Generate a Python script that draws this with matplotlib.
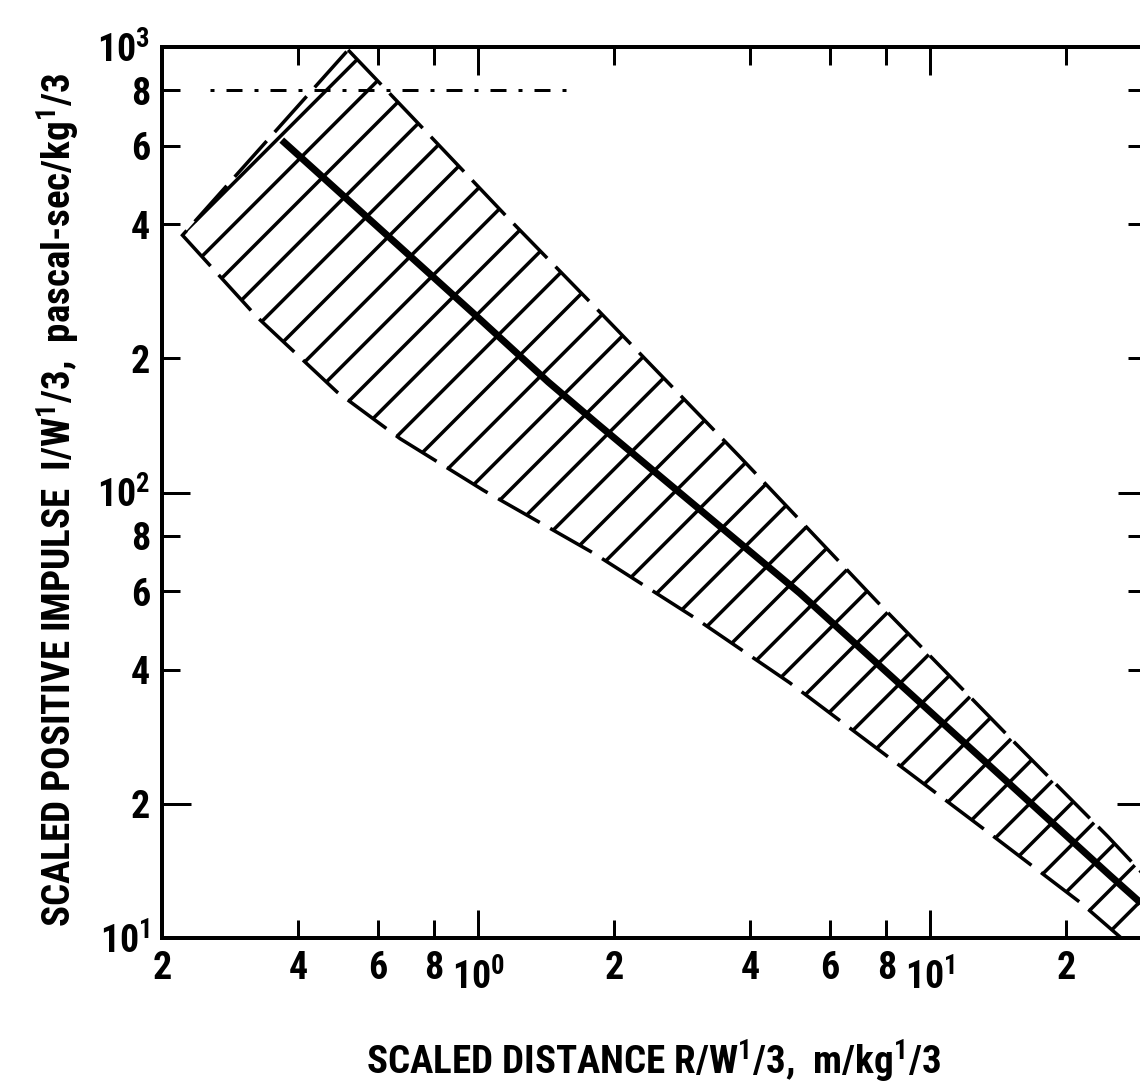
import numpy as np
import matplotlib
matplotlib.use("Agg")
import matplotlib.pyplot as plt
from matplotlib import font_manager
from matplotlib.ticker import FixedLocator, FixedFormatter

# ---------------- data ----------------
center_x = [0.368, 1.0, 1.43, 1.83, 5.15, 12.4, 25.0, 30.0]
center_y = [618, 247, 177, 143, 59.4, 26.4, 13.8, 11.7]

upper_x = [0.516, 0.726, 1.16, 1.86, 3.80, 7.64, 15.4, 24.7, 30.0]
upper_y = [985, 685, 415, 254, 120, 56.8, 27.4, 16.9, 13.7]

lower_x = [0.222, 0.324, 0.488, 0.673, 1.03, 1.80, 2.99, 4.89, 8.07, 13.4, 21.5, 26.3, 30.0]
lower_y = [378, 248, 168, 132, 101, 73.1, 52.6, 37.4, 25.5, 17.3, 12.0, 10.05, 8.95]

ref_x = [0.255, 1.66]
ref_y = [800, 800]

x_major = [1, 10]
x_major_labels = [r"$10^0$", r"$10^1$"]
x_minor = [0.2, 0.4, 0.6, 0.8, 2, 4, 6, 8, 20]
x_minor_labels = ["2", "4", "6", "8", "2", "4", "6", "8", "2"]
y_major = [10, 100, 1000]
y_major_labels = [r"$10^1$", r"$10^2$", r"$10^3$"]
y_minor = [20, 40, 60, 80, 200, 400, 600, 800]
y_minor_labels = ["2", "4", "6", "8", "2", "4", "6", "8"]

# ---------------- styling ----------------
W_PX, H_PX = 1140, 1084
DPI = 250  # '//' hatch gives dpi/6 px horizontal spacing -> ~42 px like the reference


def pt(px):
    return px * 72.0 / DPI


entries = font_manager.fontManager.ttflist
names = {f.name for f in entries}


def _wval(w):
    if isinstance(w, (int, float)):
        return w
    return font_manager.weight_dict.get(w, 400)


def _sval(s):
    if isinstance(s, (int, float)):
        return s
    return font_manager.stretch_dict.get(s, 500)


FONT, STRETCH = "DejaVu Sans", "normal"
prefs = ["Liberation Sans Narrow", "Roboto Condensed", "Open Sans Condensed",
         "Noto Sans Condensed", "DejaVu Sans Condensed", "Noto Sans SemiCondensed"]
found = False
for p in prefs:
    if p in names:
        FONT, found = p, True
        break
if not found:
    for fam in ["Noto Sans", "Open Sans", "Roboto", "DejaVu Sans", "Inter", "Lato"]:
        cond = [f for f in entries if f.name == fam and _sval(f.stretch) < 500
                and _wval(f.weight) >= 600]
        if cond:
            cond.sort(key=lambda f: abs(_sval(f.stretch) - 300))
            FONT = fam
            STRETCH = cond[0].stretch
            break

plt.rcParams["font.family"] = [FONT, "DejaVu Sans"]
plt.rcParams["font.weight"] = "bold"
plt.rcParams["font.stretch"] = STRETCH
plt.rcParams["axes.labelweight"] = "bold"
plt.rcParams["mathtext.fontset"] = "custom"
mt = f"{FONT}:weight=bold:stretch={STRETCH}"
plt.rcParams["mathtext.rm"] = mt
plt.rcParams["mathtext.it"] = mt
plt.rcParams["mathtext.bf"] = mt
plt.rcParams["mathtext.default"] = "rm"
plt.rcParams["hatch.linewidth"] = pt(3.5)
plt.rcParams["lines.scale_dashes"] = False

fig = plt.figure(figsize=(W_PX / DPI, H_PX / DPI), dpi=DPI)
L, R, T, B = 162, 1146, 47, 938
ax = fig.add_axes([L / W_PX, 1 - B / H_PX, (R - L) / W_PX, (B - T) / H_PX])
ax.set_xscale("log")
ax.set_yscale("log")
ax.set_xlim(0.2, 30)
ax.set_ylim(10, 1000)

# hatched band with dashed boundary
poly_x = upper_x + lower_x[::-1]
poly_y = upper_y + lower_y[::-1]
ax.fill(poly_x, poly_y, facecolor="none", edgecolor="black", hatch="//",
        linewidth=pt(3.5), linestyle=(0, (pt(48), pt(12))), zorder=2)

# mean line
ax.plot(center_x, center_y, color="black", lw=pt(7), solid_capstyle="butt", zorder=3)

# dash-dot reference line
ax.plot(ref_x, ref_y, color="black", lw=pt(3),
        linestyle=(0, (pt(4), pt(12), pt(16), pt(12))), zorder=3)

# ticks
ax.xaxis.set_major_locator(FixedLocator(x_major))
ax.xaxis.set_major_formatter(FixedFormatter(x_major_labels))
ax.xaxis.set_minor_locator(FixedLocator(x_minor))
ax.xaxis.set_minor_formatter(FixedFormatter(x_minor_labels))
ax.yaxis.set_major_locator(FixedLocator(y_major))
ax.yaxis.set_major_formatter(FixedFormatter(y_major_labels))
ax.yaxis.set_minor_locator(FixedLocator(y_minor))
ax.yaxis.set_minor_formatter(FixedFormatter(y_minor_labels))

ax.tick_params(which="both", direction="in", top=True, right=True,
               labeltop=False, labelright=False, width=pt(3),
               labelsize=pt(38), colors="black")
ax.tick_params(which="major", length=pt(28))
ax.tick_params(which="minor", length=pt(18))
ax.tick_params(axis="x", which="minor", pad=pt(12))
ax.tick_params(axis="x", which="major", pad=pt(20))
ax.tick_params(axis="y", which="both", pad=pt(12))

for tk, v in zip(ax.yaxis.get_minor_ticks(), y_minor):
    if v == 20:
        tk.tick1line.set_markersize(pt(29))
        tk.tick2line.set_markersize(pt(29))

for sp in ax.spines.values():
    sp.set_linewidth(pt(4))

ax.set_xlabel(r"SCALED DISTANCE R/W$^{1}$/3,  m/kg$^{1}$/3", fontsize=pt(39),
              fontweight="bold")
ax.xaxis.label.set_verticalalignment("baseline")
ax.xaxis.set_label_coords(0.5, (B - 1075) / (B - T))

ax.set_ylabel(r"SCALED POSITIVE IMPULSE  I/W$^{1}$/3,  pascal-sec/kg$^{1}$/3",
              fontsize=pt(39), fontweight="bold")
ax.yaxis.label.set_rotation_mode("anchor")
ax.yaxis.label.set_horizontalalignment("center")
ax.yaxis.label.set_verticalalignment("baseline")
ax.yaxis.set_label_coords((72 - L) / (R - L), (B - 500) / (B - T))

fig.savefig("out.png", dpi=DPI)
